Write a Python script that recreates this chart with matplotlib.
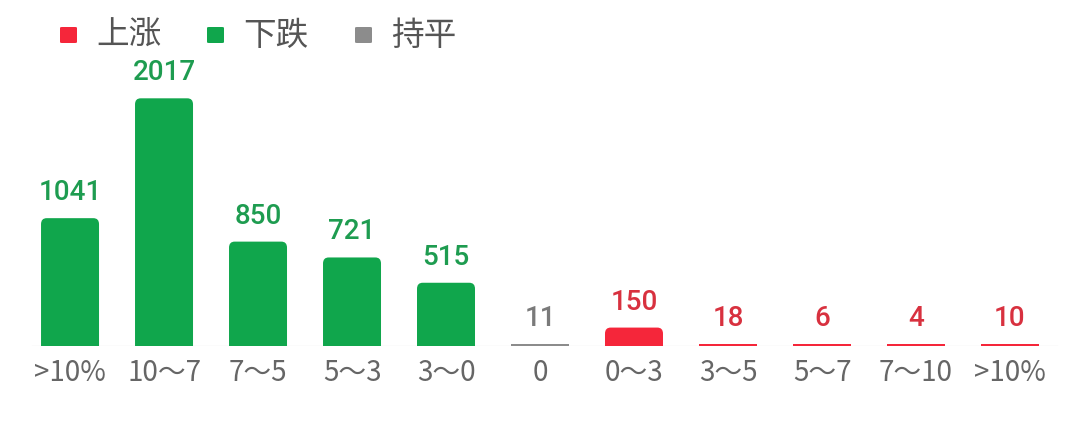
import matplotlib.pyplot as plt
from matplotlib.patches import FancyBboxPatch, Rectangle

plt.rcParams['font.family'] = ['Noto Sans CJK SC', 'DejaVu Sans']
num_font = ['Roboto', 'Noto Sans CJK SC', 'DejaVu Sans']

# data
cats = ['>10%', '10～7', '7～5', '5～3', '3～0', '0', '0～3', '3～5', '5～7', '7～10', '>10%']
vals = [1041, 2017, 850, 721, 515, 11, 150, 18, 6, 4, 10]
kind = ['down'] * 5 + ['flat'] + ['up'] * 5
legend_names = ['上涨', '下跌', '持平']

bar_col = {'up': '#f5263a', 'down': '#10a64c', 'flat': '#8c8c8c'}
txt_col = {'up': '#d8313f', 'down': '#1e9c50', 'flat': '#7a7a7a'}

fig = plt.figure(figsize=(10.8, 4.25), dpi=100)
# axes: bottom at baseline (y=346 px from top), full width
ax = fig.add_axes([0, 79 / 425, 1, 346 / 425])
ax.set_xlim(-0.745, 10.745)
px_y = 1 / 0.1228  # data units per pixel
ymax = 346 * px_y
ax.set_ylim(0, ymax)
ax.axis('off')

w = 0.617
r = 6 * px_y
for i, (v, k) in enumerate(zip(vals, kind)):
    c = bar_col[k]
    h = v
    if h / px_y > 14:
        # rounded top, bottom hidden below axis
        p = FancyBboxPatch((i - w / 2, -20 * px_y), w, h + 20 * px_y,
                           boxstyle='round,pad=0,rounding_size=0.06',
                           mutation_aspect=r / 0.06,
                           fc=c, ec='none', clip_on=True)
        ax.add_patch(p)
    else:
        ax.add_patch(Rectangle((i - w / 2, 0), w, max(h, 1.6 * px_y), fc=c, ec='none'))
    ax.annotate(str(v), (i, max(h, 2 * px_y)), xytext=(0, 12), textcoords='offset pixels',
                ha='center', va='bottom', fontsize=20, fontweight='medium',
                family=num_font, color=txt_col[k])
    ax.annotate(cats[i], (i, 0), xytext=(0, -27), textcoords='offset pixels',
                ha='center', va='center', fontsize=20, color='#666666')

# baseline
ax.plot([-0.4, 10.5], [0, 0], color='#ececec', lw=1, zorder=0)

# legend
leg_items = [(60, 'up'), (207, 'down'), (355, 'flat')]
for (x0, k), name in zip(leg_items, legend_names):
    fig.patches.append(FancyBboxPatch((x0 / 1080, (425 - 43) / 425), 17 / 1080, 16 / 425,
                                      boxstyle='round,pad=0,rounding_size=0.002',
                                      transform=fig.transFigure, fc=bar_col[k], ec='none'))
    fig.text((x0 + 36) / 1080, (425 - 36) / 425, name, fontsize=23.5, color='#555555',
             ha='left', va='center')

fig.savefig('out.png', dpi=100)
